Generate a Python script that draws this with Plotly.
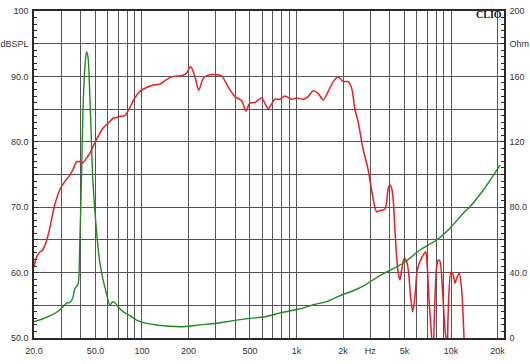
import math
import plotly.graph_objects as go

# ---- data ----
spl_freq = [20, 20.8, 21.8, 22.8, 24.2, 25.3, 27.2, 29.3, 31.6, 34.1, 35.8, 37.6, 39.5, 41.5,
            43.7, 45.9, 48.2, 50.7, 53.3, 56, 58.9, 61.9, 65, 68.3, 71.8, 77.4, 83.3, 89.8,
            96.7, 107, 118, 130, 144, 159, 180, 194, 206, 220, 233, 249, 268, 296, 327, 361,
            399, 441, 470, 499, 538, 594, 656, 725, 781, 841, 929, 1001, 1105, 1190, 1282,
            1381, 1488, 1604, 1728, 1862, 2006, 2161, 2274, 2389, 2508, 2692, 2912, 3063,
            3300, 3467, 3736, 3924, 4025, 4128, 4228, 4336, 4450, 4556, 4675, 4792, 4982,
            5164, 5290, 5480, 5646, 5844, 6048, 6296, 6614, 6856, 7020, 7232, 7494, 7642,
            7792, 8074, 8270, 8482, 8836, 9142, 9278, 9418, 9602, 9994, 10344, 10608, 10984,
            11312, 11726, 12134, 12408]
spl_db = [60.9, 62.4, 63.1, 63.5, 65.0, 66.8, 70.3, 72.6, 73.9, 74.9, 75.8, 76.9, 77.0, 76.8,
          77.5, 78.2, 79.3, 80.3, 81.3, 82.1, 82.6, 83.1, 83.6, 83.7, 83.9, 84.0, 85.2, 86.7,
          87.7, 88.3, 88.7, 88.8, 89.5, 90.0, 90.1, 90.5, 91.5, 90.0, 87.9, 89.7, 90.2, 90.3,
          90.1, 88.4, 86.9, 86.3, 84.7, 85.9, 86.0, 86.7, 85.1, 86.5, 86.5, 87.0, 86.5, 86.7,
          86.5, 86.9, 87.8, 87.4, 86.4, 87.7, 89.2, 89.9, 89.2, 89.2, 88.2, 85.0, 83.0, 79.0,
          75.7, 72.6, 69.3, 69.5, 69.7, 72.9, 73.4, 72.9, 71.1, 66.5, 62.4, 59.9, 58.9, 60.4,
          62.2, 61.7, 60.4, 56.3, 54.0, 56.3, 60.4, 61.7, 62.7, 63.2, 60.9, 55.3, 50.0, 45.0,
          52.8, 60.9, 61.9, 61.7, 56.8, 51.2, 50.0, 46.0, 54.3, 60.1, 59.6, 58.4, 59.4, 59.9,
          57.3, 50.2, 45.0]

imp_freq = [20, 22.7, 25.3, 27.2, 29.3, 31.6, 32.6, 34.1, 35.1, 35.8, 36.7, 37.6, 38.6, 39.5,
            40.6, 41.5, 42.6, 43.7, 44.7, 45.9, 47.1, 48.2, 50.7, 53.3, 56, 58.9, 61.9, 64.4,
            66.6, 70, 75.4, 83.3, 92.1, 112, 144, 185, 237, 304, 389, 499, 624, 801, 1025,
            1315, 1566, 1958, 2328, 2773, 3380, 4128, 5035, 6296, 8074, 9848, 12008, 13270,
            16181, 20760]
imp_ohm = [10.0, 11.6, 13.5, 15.0, 17.1, 20.2, 21.4, 21.7, 23.2, 25.1, 30.0, 31.5, 33.0, 55.0,
           98.7, 139.4, 163.9, 174.9, 171.9, 149.7, 119.1, 94.6, 66.1, 46.5, 35.5, 27.3, 20.2,
           22.0, 21.7, 19.1, 16.1, 13.8, 11.0, 8.6, 7.3, 6.9, 8.0, 9.0, 10.6, 12.0, 13.0, 15.5,
           17.6, 20.6, 22.2, 26.3, 28.9, 32.4, 37.5, 42.0, 46.5, 53.8, 59.9, 67.1, 76.3, 80.3,
           90.5, 105.8]

x_tick_vals = [20, 50, 100, 200, 500, 1000, 2000, 3000, 5000, 10000, 20000]
x_tick_text = ["20.0", "50.0", "100", "200", "500", "1k", "2k", "Hz", "5k", "10k", "20k"]
x_grid_vals = [m * 10 ** e for e in range(1, 5) for m in range(1, 10) if 20 <= m * 10 ** e <= 20000]

y_tick_vals = [50, 55, 60, 65, 70, 75, 80, 85, 90, 95, 100]
y_tick_text = ["50.0", "", "60.0", "", "70.0", "", "80.0", "", "90.0", "dBSPL", "100"]
y2_tick_vals = [0, 20, 40, 60, 80, 100, 120, 140, 160, 180, 200]
y2_tick_text = ["0", "", "40.0", "", "80.0", "", "120", "", "160", "Ohm", "200"]

RED = "#ec1c24"
GREEN = "#1f8a1f"
GRID = "#555555"
FRAME = "#2a2a2a"
FONT = dict(family="Liberation Sans, Arial, sans-serif", size=9, color="#333333")

fig = go.Figure()
fig.add_trace(go.Scatter(x=imp_freq, y=imp_ohm, yaxis="y2", mode="lines",
                         line=dict(color=GREEN, width=1.4, shape="spline", smoothing=0.8),
                         showlegend=False))
fig.add_trace(go.Scatter(x=spl_freq, y=spl_db, mode="lines",
                         line=dict(color=RED, width=1.5, shape="spline", smoothing=0.8),
                         showlegend=False))

fig.update_layout(
    width=530, height=364,
    margin=dict(l=34, r=26, t=11, b=26),
    template="none",
    paper_bgcolor="white", plot_bgcolor="white",
    font=FONT,
    xaxis=dict(type="log", range=[math.log10(20), math.log10(22030)],
               tickmode="array", tickvals=x_tick_vals, ticktext=x_tick_text,
               showgrid=True, gridcolor=GRID, gridwidth=1.3,
               minor=dict(tickmode="array", tickvals=x_grid_vals, showgrid=True,
                          gridcolor=GRID, gridwidth=1.3, ticks=""),
               showline=True, mirror=True, linecolor=FRAME, linewidth=1.5,
               ticks="", zeroline=False, tickfont=FONT, ticklabelstandoff=3),
    yaxis=dict(range=[50, 100], tickmode="array", tickvals=y_tick_vals, ticktext=y_tick_text,
               showgrid=True, gridcolor=GRID, gridwidth=1.3, zeroline=False,
               showline=True, mirror=True, linecolor=FRAME, linewidth=1.5,
               ticks="inside", ticklen=4, tickcolor=FRAME, tickwidth=1,
               minor=dict(dtick=1, ticks="inside", ticklen=3, tickcolor=FRAME, tickwidth=1, showgrid=False),
               tickfont=FONT, ticklabelstandoff=2),
    yaxis2=dict(range=[0, 200], overlaying="y", side="right", tickmode="array",
                tickvals=y2_tick_vals, ticktext=y2_tick_text, showgrid=False, zeroline=False,
                showline=True, linecolor=FRAME, linewidth=1.5,
                ticks="inside", ticklen=4, tickcolor=FRAME, tickwidth=1,
                minor=dict(dtick=4, ticks="inside", ticklen=3, tickcolor=FRAME, tickwidth=1, showgrid=False),
                tickfont=FONT, ticklabelstandoff=2),
    annotations=[dict(text="<b>CLIO</b>", xref="paper", yref="paper", x=0.999, y=0.988,
                      xanchor="right", yanchor="middle", showarrow=False,
                      font=dict(family="Liberation Serif, Times New Roman, serif", size=10, color="#111111"))],
)

fig.write_html("out.html", config={"displayModeBar": False},
               post_script="document.body.style.margin='0';")
